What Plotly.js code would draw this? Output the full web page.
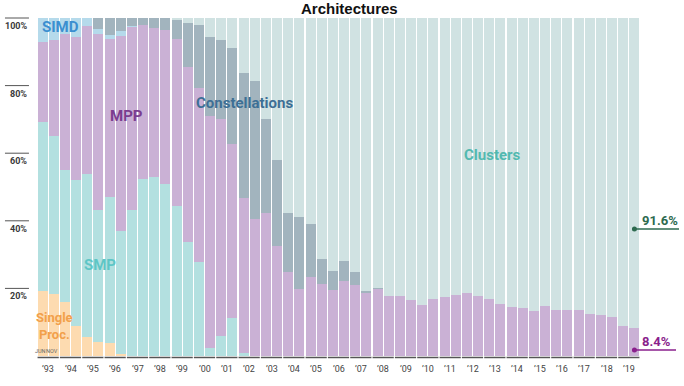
<!DOCTYPE html>
<html>
<head>
<meta charset="utf-8">
<script src="https://cdn.plot.ly/plotly-3.0.1.min.js"></script>
<style>html,body{margin:0;padding:0;background:#fff;}#chart{width:684px;height:386px;}</style>
</head>
<body>
<div id="chart"></div>
<script>
// Two lists per year: June and November, 1993–2019
const years = [1993,1994,1995,1996,1997,1998,1999,2000,2001,2002,2003,2004,2005,2006,2007,2008,2009,2010,2011,2012,2013,2014,2015,2016,2017,2018,2019];
const yearLabels = ["’93","’94","’95","’96","’97","’98","’99","’00","’01","’02","’03","’04","’05","’06","’07","’08","’09","’10","’11","’12","’13","’14","’15","’16","’17","’18","’19"];
const halves = ["JUN","NOV"];

// Share of TOP500 systems (%) per list
const singleProc = [19.3,18.3,16.0,8.9,5.7,4.2,3.7,0.5,0,0,0,0,0,0,0,0,0,0,0,0,0,0,0,0,0,0,0,0,0,0,0,0,0,0,0,0,0,0,0,0,0,0,0,0,0,0,0,0,0,0,0,0,0,0];
const smp = [49.8,46.8,39.0,43.2,48.2,39.1,43.2,36.6,43.2,52.4,53.1,50.9,44.4,33.6,27.7,2.3,6.0,11.3,0.8,0,0,0,0,0,0,0,0,0,0,0,0,0,0,0,0,0,0,0,0,0,0,0,0,0,0,0,0,0,0,0,0,0,0,0];
const mpp = [23.9,28.4,40.2,42.4,43.7,52.1,46.8,57.7,54.0,45.6,44.0,45.5,49.5,51.9,51.5,68.8,64.1,51.3,46.0,40.5,42.2,32.5,25.0,19.7,23.5,21.3,19.5,22.1,20.9,18.7,19.8,17.9,17.9,16.6,15.0,16.9,17.6,18.0,18.7,17.8,16.8,15.4,14.6,14.1,13.3,14.7,13.6,13.6,13.6,12.4,12.0,11.5,8.9,8.4];
const simd = [7.0,6.5,4.8,5.5,2.4,1.2,1.3,1.4,0.4,0,0,0,0,0,0,0,0,0,0,0,0,0,0,0,0,0,0,0,0,0,0,0,0,0,0,0,0,0,0,0,0,0,0,0,0,0,0,0,0,0,0,0,0,0];
const constellations = [0,0,0,0,0,3.4,5.0,3.8,2.4,2.0,2.9,3.6,5.4,13.0,18.7,23.2,23.4,28.6,36.8,41.0,28.0,25.5,17.2,21.5,15.7,7.3,5.7,6.1,4.1,0.4,0.2,0,0,0,0,0,0,0,0,0,0,0,0,0,0,0,0,0,0,0,0,0,0,0];
const clusters = [0,0,0,0,0,0,0,0,0,0,0,0,0.7,1.5,2.1,5.7,6.5,8.8,16.4,18.5,29.8,42.0,57.8,58.8,60.8,71.4,74.8,71.8,75.0,80.9,80.0,82.1,82.1,83.4,85.0,83.1,82.4,82.0,81.3,82.2,83.2,84.6,85.4,85.9,86.7,85.3,86.4,86.4,86.4,87.6,88.0,88.5,91.1,91.6];

const yTicks = [100,80,60,40,20];
const finalLabels = [{text:"91.6%", color:"#2d6a4f", y:37.6, end:1.0647}, {text:"8.4%", color:"#8a1f8c", y:1.8, end:1.0597}];

const periods = [];
years.forEach(y => halves.forEach(h => periods.push(h + " " + y)));
const xs = periods.map((p, i) => i);

function barTrace(name, vals, color) {
  return {type:'bar', name:name, x:xs, y:vals, marker:{color:color, line:{width:0}},
          hoverinfo:'none', text: periods, textposition:'none'};
}
const data = [
  barTrace('Single Proc.', singleProc, '#fddbb0'),
  barTrace('SMP', smp, '#b3e0e0'),
  barTrace('MPP', mpp, '#cab1d5'),
  barTrace('SIMD', simd, '#b5daeb'),
  barTrace('Constellations', constellations, '#a2b4be'),
  barTrace('Clusters', clusters, '#d0e2e2')
];

const shapes = [];
const annotations = [];

// Title
annotations.push({text:'<b>Architectures</b>', xref:'paper', yref:'paper', x:0.519, y:1, yshift:10,
  xanchor:'center', yanchor:'middle', showarrow:false,
  font:{family:'Liberation Sans, Arial, sans-serif', size:15, color:'#111'}});

// Y tick marks and labels
yTicks.forEach(v => {
  shapes.push({type:'line', xref:'paper', yref:'paper', x0:-0.0531, x1:-0.0133, y0:v/100, y1:v/100,
    line:{color:'#555', width:1}});
  annotations.push({text:'<b>' + v + '%</b>', xref:'paper', yref:'paper', x:-0.0133, y:v/100, yshift:-8,
    xanchor:'right', yanchor:'middle', showarrow:false,
    font:{family:'Roboto, sans-serif', size:9, color:'#3a3a3a'}});
});

// Year underline segments and labels
years.forEach((yr, k) => {
  shapes.push({type:'line', xref:'x', yref:'paper', x0:2*k-0.45, x1:2*k+1.45, y0:-0.0044, y1:-0.0044,
    line:{color:'#555', width:1.5}});
  annotations.push({text:yearLabels[k], xref:'x', yref:'paper', x:2*k+0.5, y:0, yshift:-12.5,
    xanchor:'center', yanchor:'middle', showarrow:false,
    font:{family:'Liberation Sans Narrow, Roboto, sans-serif', size:9, color:'#444'}});
});

// JUN / NOV hint
halves.forEach((h, i) => {
  annotations.push({text:h, xref:'x', yref:'paper', x:i, y:0, yshift:5.3, xshift:-2,
    xanchor:'center', yanchor:'middle', showarrow:false,
    font:{family:'Liberation Sans Narrow, Roboto, sans-serif', size:5.5, color:'#666'}});
});

// Category labels
const labFont = (c, s) => ({family:'Roboto, sans-serif', size:s||15, color:c, weight:700});
const catLabels = [
  {t:'SIMD', x:1.56, y:97.2, c:'#3b8fd0'},
  {t:'MPP', x:7.47, y:71.0, c:'#7b3d90'},
  {t:'Constellations', x:18.1, y:74.8, c:'#3d6f95'},
  {t:'Clusters', x:40.3, y:59.6, c:'#52b9b0'},
  {t:'SMP', x:5.14, y:27.0, c:'#5ec6c6'},
  {t:'Single<br>Proc.', x:1.11, y:8.9, c:'#f2a04a', s:13}
];
catLabels.forEach(l => annotations.push({text:l.t, xref:'x', yref:'y', x:l.x, y:l.y,
  xanchor:'center', yanchor:'middle', showarrow:false, font:labFont(l.c, l.s)}));

// Final-value callouts
const lastX = xs[xs.length - 1];
const lastPaper = (lastX + 0.5) / xs.length;
finalLabels.forEach(f => {
  shapes.push({type:'line', xref:'paper', yref:'paper', x0:lastPaper, x1:f.end, y0:f.y/100, y1:f.y/100,
    line:{color:f.color, width:1.5}, layer:'above'});
  shapes.push({type:'circle', xref:'x', yref:'y', xsizemode:'pixel', ysizemode:'pixel',
    xanchor:lastX, yanchor:f.y, x0:-2.5, x1:2.5, y0:-2.5, y1:2.5,
    fillcolor:f.color, line:{width:0}, layer:'above'});
  annotations.push({text:'<b>' + f.text + '</b>', xref:'x', yref:'y', x:lastX, y:f.y, xshift:6, yshift:8,
    xanchor:'left', yanchor:'middle', showarrow:false,
    font:{family:'Roboto, sans-serif', size:13, color:f.color}});
});

const layout = {
  width:684, height:386,
  margin:{l:37, r:44, t:18, b:30, pad:0},
  paper_bgcolor:'#fff', plot_bgcolor:'#fff',
  barmode:'stack', bargap:0.1,
  showlegend:false,
  xaxis:{range:[-0.5, 53.5], showgrid:false, zeroline:false, showticklabels:false, ticks:'', showline:false, fixedrange:true},
  yaxis:{range:[0, 100], showgrid:false, zeroline:false, showticklabels:false, ticks:'', showline:false, fixedrange:true},
  shapes:shapes,
  annotations:annotations
};

Plotly.newPlot('chart', data, layout, {displayModeBar:false, staticPlot:true});
</script>
</body>
</html>
